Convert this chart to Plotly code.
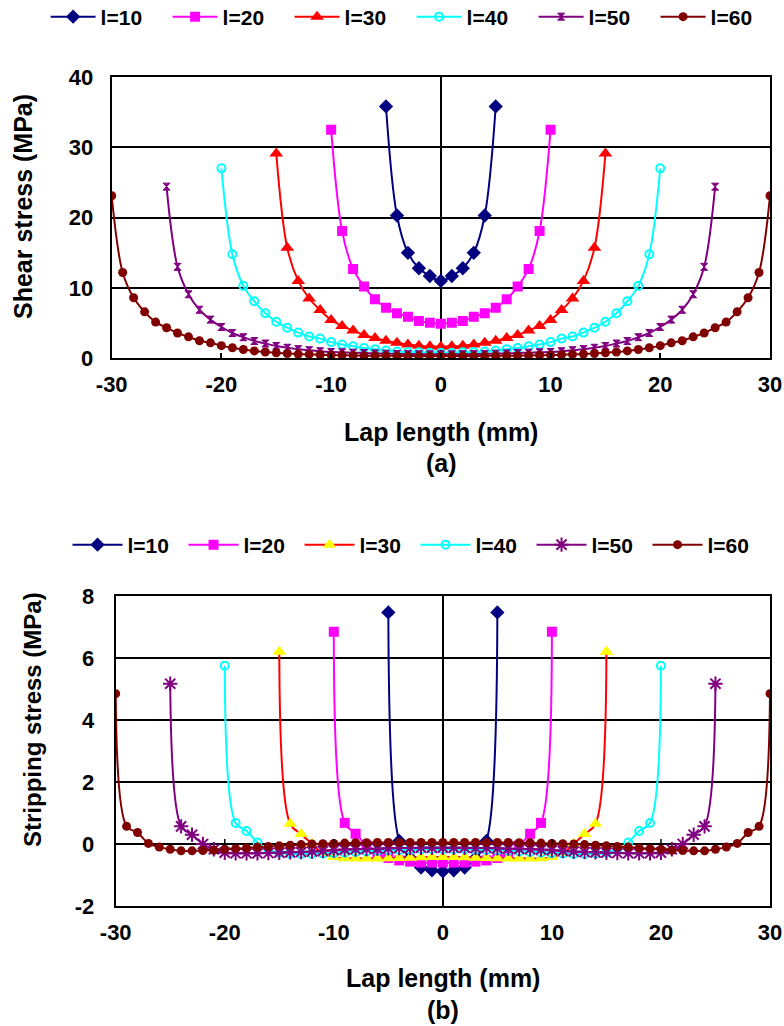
import plotly.graph_objects as go

# ---------------- data ----------------
series_names = ["l=10", "l=20", "l=30", "l=40", "l=50", "l=60"]
x_l10 = list(range(-5, 6))
x_l20 = list(range(-10, 11))
x_l30 = list(range(-15, 16))
x_l40 = list(range(-20, 21))
x_l50 = list(range(-25, 26))
x_l60 = list(range(-30, 31))

# (a) shear stress (MPa)
shear_l10 = [35.8, 20.3, 15.0, 12.8, 11.7, 11.0, 11.7, 12.8, 15.0, 20.3, 35.8]
shear_l20 = [32.5, 18.1, 12.7, 10.2, 8.4, 7.2, 6.4, 5.9, 5.3, 5.05, 4.9,
             5.05, 5.3, 5.9, 6.4, 7.2, 8.4, 10.2, 12.7, 18.1, 32.5]
shear_l30 = [29.1, 15.7, 11.0, 8.5, 6.85, 5.45, 4.6, 3.95, 3.3, 2.9, 2.5, 2.2, 1.95, 1.8, 1.7, 1.65,
             1.7, 1.8, 1.95, 2.2, 2.5, 2.9, 3.3, 3.95, 4.6, 5.45, 6.85, 8.5, 11.0, 15.7, 29.1]
shear_l40 = [27.0, 14.8, 10.3, 8.1, 6.4, 5.2, 4.35, 3.65, 3.1, 2.8, 2.3, 1.95, 1.7, 1.45, 1.3, 1.1,
             0.95, 0.9, 0.85, 0.8, 0.78,
             0.8, 0.85, 0.9, 0.95, 1.1, 1.3, 1.45, 1.7, 1.95, 2.3, 2.8, 3.1, 3.65, 4.35, 5.2,
             6.4, 8.1, 10.3, 14.8, 27.0]
shear_l50 = [24.4, 13.0, 9.1, 6.9, 5.5, 4.45, 3.6, 3.0, 2.45, 2.1, 1.75, 1.5, 1.3, 1.15, 1.0, 0.9,
             0.85, 0.8, 0.75, 0.7, 0.65, 0.62, 0.6, 0.58, 0.57, 0.56,
             0.57, 0.58, 0.6, 0.62, 0.65, 0.7, 0.75, 0.8, 0.85, 0.9, 1.0, 1.15, 1.3, 1.5, 1.75,
             2.1, 2.45, 3.0, 3.6, 4.45, 5.5, 6.9, 9.1, 13.0, 24.4]
shear_l60 = [23.1, 12.2, 8.6, 6.6, 5.15, 4.35, 3.6, 3.05, 2.5, 2.2, 1.8, 1.5, 1.25, 1.05, 0.9, 0.78,
             0.68, 0.6, 0.55, 0.5, 0.46, 0.43, 0.4, 0.38, 0.36, 0.35, 0.34, 0.33, 0.33, 0.32, 0.32,
             0.32, 0.33, 0.33, 0.34, 0.35, 0.36, 0.38, 0.4, 0.43, 0.46, 0.5, 0.55, 0.6, 0.68, 0.78,
             0.9, 1.05, 1.25, 1.5, 1.8, 2.2, 2.5, 3.05, 3.6, 4.35, 5.15, 6.6, 8.6, 12.2, 23.1]

# (b) stripping stress (MPa)
strip_l10 = [7.47, 0.1, -0.45, -0.76, -0.85, -0.88, -0.85, -0.76, -0.45, 0.1, 7.47]
strip_l20 = [6.85, 0.68, 0.33, -0.05, -0.3, -0.45, -0.53, -0.57, -0.6, -0.6, -0.6,
             -0.6, -0.6, -0.57, -0.53, -0.45, -0.3, -0.05, 0.33, 0.68, 6.85]
strip_l30 = [6.2, 0.65, 0.32, 0.0, -0.3, -0.42, -0.46, -0.47, -0.47, -0.47, -0.46, -0.45, -0.44,
             -0.43, -0.42, -0.42,
             -0.42, -0.43, -0.44, -0.45, -0.46, -0.47, -0.47, -0.47, -0.46, -0.42, -0.3, 0.0,
             0.32, 0.65, 6.2]
strip_l40 = [5.75, 0.68, 0.42, 0.05, -0.2, -0.28, -0.31, -0.32, -0.32, -0.31, -0.3, -0.28, -0.26,
             -0.24, -0.22, -0.2, -0.19, -0.18, -0.17, -0.17, -0.17,
             -0.17, -0.17, -0.18, -0.19, -0.2, -0.22, -0.24, -0.26, -0.28, -0.3, -0.31, -0.32,
             -0.32, -0.31, -0.28, -0.2, 0.05, 0.42, 0.68, 5.75]
strip_l50 = [5.17, 0.57, 0.3, 0.0, -0.17, -0.28, -0.3, -0.3, -0.3, -0.29, -0.28, -0.27, -0.26,
             -0.24, -0.22, -0.2, -0.18, -0.17, -0.16, -0.15, -0.14, -0.13, -0.13, -0.12, -0.12, -0.12,
             -0.12, -0.12, -0.13, -0.13, -0.14, -0.15, -0.16, -0.17, -0.18, -0.2, -0.22, -0.24,
             -0.26, -0.27, -0.28, -0.29, -0.3, -0.3, -0.3, -0.28, -0.17, 0.0, 0.3, 0.57, 5.17]
strip_l60 = [4.85, 0.57, 0.37, 0.02, -0.1, -0.17, -0.22, -0.22, -0.21, -0.2, -0.17, -0.15, -0.13,
             -0.1, -0.08, -0.06, -0.04, -0.02, 0.0, 0.01, 0.02, 0.03, 0.04, 0.04, 0.05, 0.05, 0.05,
             0.05, 0.05, 0.05, 0.05,
             0.05, 0.05, 0.05, 0.05, 0.05, 0.05, 0.04, 0.04, 0.03, 0.02, 0.01, 0.0, -0.02, -0.04,
             -0.06, -0.08, -0.1, -0.13, -0.15, -0.17, -0.2, -0.21, -0.22, -0.22, -0.17, -0.1, 0.02,
             0.37, 0.57, 4.85]

x_tick_vals = [-30, -20, -10, 0, 10, 20, 30]
x_tick_text = ["-30", "-20", "-10", "0", "10", "20", "30"]
ya_tick_vals = [0, 10, 20, 30, 40]
ya_tick_text = ["0", "10", "20", "30", "40"]
yb_tick_vals = [-2, 0, 2, 4, 6, 8]
yb_tick_text = ["-2", "0", "2", "4", "6", "8"]

# ---------------- styles ----------------
FONT = "Liberation Sans, Arial, sans-serif"
line_colors = ["#000080", "#FF00FF", "#FF0000", "#00FFFF", "#800080", "#800000"]
markers_a = [
    dict(symbol="diamond", size=11, color="#000080"),
    dict(symbol="square", size=10, color="#FF00FF"),
    dict(symbol="triangle-up", size=12, color="#FF0000"),
    dict(symbol="circle-open", size=8, color="#00FFFF", line=dict(width=2, color="#00FFFF")),
    dict(symbol="hourglass", size=7, color="#800080", line=dict(width=1, color="#800080")),
    dict(symbol="circle", size=9, color="#800000"),
]
markers_b = [
    dict(symbol="diamond", size=11, color="#000080"),
    dict(symbol="square", size=10, color="#FF00FF"),
    dict(symbol="triangle-up", size=12, color="#FFFF00"),
    dict(symbol="circle-open", size=8, color="#00FFFF", line=dict(width=2, color="#00FFFF")),
    dict(symbol="asterisk-open", size=12, color="#800080", line=dict(width=2, color="#800080")),
    dict(symbol="circle", size=9, color="#800000"),
]

xs = [x_l10, x_l20, x_l30, x_l40, x_l50, x_l60]
shear = [shear_l10, shear_l20, shear_l30, shear_l40, shear_l50, shear_l60]
strip = [strip_l10, strip_l20, strip_l30, strip_l40, strip_l50, strip_l60]

fig = go.Figure()
for i, name in enumerate(series_names):
    fig.add_trace(go.Scatter(
        x=xs[i], y=shear[i], name=name, mode="lines+markers",
        line=dict(color=line_colors[i], width=2, shape="spline", smoothing=1),
        marker=markers_a[i], xaxis="x", yaxis="y", legend="legend"))
for i, name in enumerate(series_names):
    fig.add_trace(go.Scatter(
        x=xs[i], y=strip[i], name=name, mode="lines+markers",
        line=dict(color=line_colors[i], width=2, shape="spline", smoothing=1),
        marker=markers_b[i], xaxis="x2", yaxis="y2", legend="legend2"))

W, H = 784, 1026
tickfont = dict(family=FONT, size=22, color="black", weight="bold")
axis_common = dict(showline=True, mirror=True, linecolor="black", linewidth=2, automargin=False)

# tick marks on the zero line of panel (b)
shapes = []
for v in x_tick_vals:
    if v not in (-30, 0, 30):
        shapes.append(dict(type="line", xref="x2", yref="y2", x0=v, x1=v, y0=0, y1=0.16,
                           line=dict(color="black", width=1.5)))

def ann(text, x, y, size=25, angle=0):
    return dict(text=text, x=x, y=y, xref="paper", yref="paper", showarrow=False,
                xanchor="center", yanchor="middle", textangle=angle,
                font=dict(family=FONT, size=size, color="black", weight="bold"))

fig.update_layout(
    width=W, height=H, margin=dict(l=0, r=0, t=0, b=0, autoexpand=False),
    paper_bgcolor="white", plot_bgcolor="white",
    showlegend=True,
    xaxis=dict(domain=[111.7 / W, 770 / W], range=[-30, 30],
               tickvals=x_tick_vals, ticktext=x_tick_text,
               showgrid=False, zeroline=True, zerolinecolor="black", zerolinewidth=2,
               ticks="inside", ticklen=5, tickwidth=1.5, tickcolor="black",
               tickfont=tickfont, ticklabelstandoff=5, anchor="y", **axis_common),
    yaxis=dict(domain=[1 - 358.3 / H, 1 - 76.9 / H], range=[0, 40],
               tickvals=ya_tick_vals, ticktext=ya_tick_text,
               showgrid=True, gridcolor="black", gridwidth=1.5, zeroline=False,
               ticks="", tickfont=tickfont, ticklabelstandoff=12, anchor="x", **axis_common),
    xaxis2=dict(domain=[115.7 / W, 770 / W], range=[-30, 30],
                tickvals=x_tick_vals, ticktext=x_tick_text,
                showgrid=False, zeroline=True, zerolinecolor="black", zerolinewidth=2,
                ticks="", tickfont=tickfont, ticklabelstandoff=6, anchor="y2", **axis_common),
    yaxis2=dict(domain=[1 - 906 / H, 1 - 596 / H], range=[-2, 8],
                tickvals=yb_tick_vals, ticktext=yb_tick_text,
                showgrid=True, gridcolor="black", gridwidth=1.5, zeroline=True,
                zerolinecolor="black", zerolinewidth=1.5,
                ticks="", tickfont=tickfont, ticklabelstandoff=15, anchor="x2", **axis_common),
    legend=dict(orientation="h", x=0.525, xanchor="center", y=1 - 17 / H, yanchor="middle",
                font=dict(family=FONT, size=21, color="black", weight="bold"),
                itemwidth=45, entrywidth=62, entrywidthmode="pixels",
                bgcolor="rgba(0,0,0,0)"),
    legend2=dict(orientation="h", x=0.53, xanchor="center", y=1 - 545 / H, yanchor="middle",
                 font=dict(family=FONT, size=21, color="black", weight="bold"),
                 itemwidth=50, entrywidth=51, entrywidthmode="pixels",
                 bgcolor="rgba(0,0,0,0)"),
    shapes=shapes,
    annotations=[
        ann("Lap length (mm)", (111.7 + 770) / 2 / W, 1 - 432 / H),
        ann("(a)", 441 / W, 1 - 463 / H),
        ann("Shear stress (MPa)", 23 / W, 1 - 207 / H, angle=-90),
        ann("Lap length (mm)", (115.7 + 770) / 2 / W, 1 - 978 / H),
        ann("(b)", 443 / W, 1 - 1010 / H),
        ann("Stripping stress (MPa)", 32 / W, 1 - 720 / H, size=24, angle=-90),
    ],
)

fig.write_html("out.html")
